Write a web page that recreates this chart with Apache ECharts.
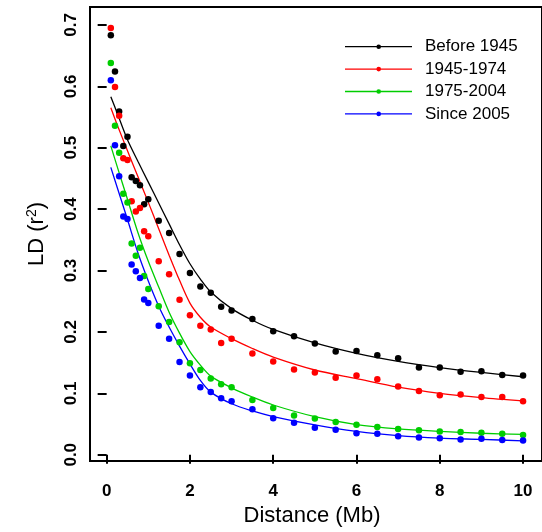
<!DOCTYPE html>
<html>
<head>
<meta charset="utf-8">
<script src="https://cdn.jsdelivr.net/npm/echarts@6/dist/echarts.min.js"></script>
<style>html,body{margin:0;padding:0;background:#fff}#c{width:542px;height:532px}</style>
</head>
<body>
<div id="c"></div>
<script>
// ---- data ----
const seriesNames = ['Before 1945', '1945-1974', '1975-2004', 'Since 2005'];
const distance = [0.1,0.2,0.3,0.4,0.5,0.6,0.7,0.8,0.9,1.0,1.25,1.5,1.75,2.0,2.25,2.5,2.75,3.0,3.5,4,4.5,5,5.5,6,6.5,7,7.5,8,8.5,9,9.5,10];
const ldBefore1945 = [0.683,0.624,0.559,0.503,0.518,0.452,0.446,0.439,0.408,0.416,0.381,0.361,0.327,0.296,0.274,0.264,0.241,0.235,0.221,0.201,0.193,0.181,0.168,0.169,0.162,0.157,0.142,0.142,0.135,0.136,0.130,0.129];
const ld1945_1974 = [0.695,0.599,0.552,0.483,0.480,0.413,0.396,0.402,0.364,0.356,0.315,0.294,0.2525,0.227,0.210,0.204,0.182,0.189,0.165,0.152,0.139,0.134,0.1255,0.129,0.123,0.111,0.104,0.097,0.098,0.094,0.094,0.087];
const ld1975_2004 = [0.638,0.536,0.492,0.425,0.411,0.344,0.324,0.337,0.291,0.270,0.242,0.216,0.183,0.149,0.138,0.124,0.115,0.110,0.089,0.076,0.064,0.059,0.0535,0.049,0.045,0.042,0.040,0.038,0.037,0.036,0.034,0.032];
const ldSince2005 = [0.610,0.504,0.4535,0.388,0.384,0.310,0.299,0.288,0.253,0.247,0.210,0.189,0.151,0.129,0.110,0.102,0.092,0.087,0.074,0.0595,0.052,0.044,0.0405,0.035,0.034,0.030,0.028,0.027,0.025,0.026,0.024,0.023];
// fitted decay curves
const fitX = [0.1,0.25,0.5,0.75,1,1.25,1.5,1.75,2,2.25,2.5,3,3.5,4,5,6,7,8,9,10];
const fitBefore1945 = [0.583,0.557,0.513,0.478,0.444,0.410,0.376,0.342,0.311,0.286,0.265,0.238,0.219,0.204,0.182,0.165,0.152,0.142,0.134,0.127];
const fit1945_1974 = [0.565,0.538,0.495,0.453,0.411,0.368,0.325,0.284,0.247,0.224,0.208,0.189,0.173,0.159,0.138,0.124,0.110,0.100,0.093,0.0876];
const fit1975_2004 = [0.503,0.470,0.416,0.362,0.315,0.273,0.232,0.198,0.168,0.146,0.128,0.109,0.094,0.081,0.062,0.049,0.042,0.038,0.035,0.033];
const fitSince2005 = [0.468,0.436,0.383,0.329,0.283,0.242,0.208,0.177,0.148,0.121,0.102,0.083,0.0713,0.0622,0.0486,0.038,0.031,0.027,0.025,0.0227];
const xTicks = [0,2,4,6,8,10];
const yTicks = [0,0.1,0.2,0.3,0.4,0.5,0.6,0.7];
const colors = ['#000000','#ff0000','#00cd00','#0000ff'];

const pointSets = [ldBefore1945, ld1945_1974, ld1975_2004, ldSince2005];
const fitSets = [fitBefore1945, fit1945_1974, fit1975_2004, fitSince2005];

const font = 'Liberation Sans, Arial, sans-serif';
const series = [];
pointSets.forEach((vals, i) => {
  series.push({
    type: 'scatter', name: seriesNames[i],
    data: distance.map((d, k) => [d, vals[k]]),
    symbol: 'circle', symbolSize: 6.5,
    itemStyle: {color: colors[i], opacity: 1}, z: 3
  });
});
fitSets.forEach((vals, i) => {
  series.push({
    type: 'line', name: seriesNames[i] + ' fit',
    data: fitX.map((d, k) => [d, vals[k]]),
    showSymbol: false, smooth: 0.3,
    lineStyle: {color: colors[i], width: 1.3}, z: 2
  });
});

// legend drawn as graphic (line + dot + text)
const legendGraphics = [];
seriesNames.forEach((n, i) => {
  const y = 46.7 + i * 22.4;
  legendGraphics.push({type:'line', shape:{x1:345, y1:y, x2:412, y2:y}, style:{stroke:colors[i], lineWidth:1.3}});
  legendGraphics.push({type:'circle', shape:{cx:378.7, cy:y, r:2.3}, style:{fill:colors[i]}});
  legendGraphics.push({type:'text', x:425, y:y, style:{text:n, fill:'#000', font:'17px ' + font, verticalAlign:'middle', align:'left'}});
});

const chart = echarts.init(document.getElementById('c'), null, {renderer:'canvas'});
chart.setOption({
  animation: false,
  backgroundColor: '#fff',
  grid: {left: 90, top: 7, width: 453, height: 456, show: true, borderColor: '#000', borderWidth: 2, backgroundColor: 'transparent', containLabel: false},
  xAxis: {
    type: 'value', min: -0.4, max: 10.455,
    name: 'Distance (Mb)', nameLocation: 'middle', nameGap: 44,
    nameTextStyle: {fontSize: 22, fontFamily: font, color: '#000', padding: [0, 8, 0, 0]},
    axisLine: {show: false},
    axisTick: {show: true, length: 9, lineStyle: {color: '#000', width: 2}, customValues: xTicks},
    axisLabel: {fontSize: 17, fontWeight: 'bold', fontFamily: font, color: '#000', margin: 22, customValues: xTicks},
    splitLine: {show: false}
  },
  yAxis: {
    type: 'value', min: -0.0102, max: 0.7292,
    name: 'LD (r{sup|2})', nameLocation: 'middle', nameGap: 41, nameRotate: 90,
    nameTextStyle: {fontSize: 22, fontFamily: font, color: '#000', rich: {sup: {fontSize: 14, fontFamily: font, verticalAlign: 'top', padding:[0,0,10,0]}}},
    axisLine: {show: false},
    axisTick: {show: true, length: 9, lineStyle: {color: '#000', width: 2}, customValues: yTicks},
    axisLabel: {fontSize: 17, fontWeight: 'bold', fontFamily: font, color: '#000', rotate: 90, margin: 10, customValues: yTicks,
      formatter: v => v.toFixed(1)},
    splitLine: {show: false}
  },
  graphic: legendGraphics,
  series: series
});
</script>
</body>
</html>
